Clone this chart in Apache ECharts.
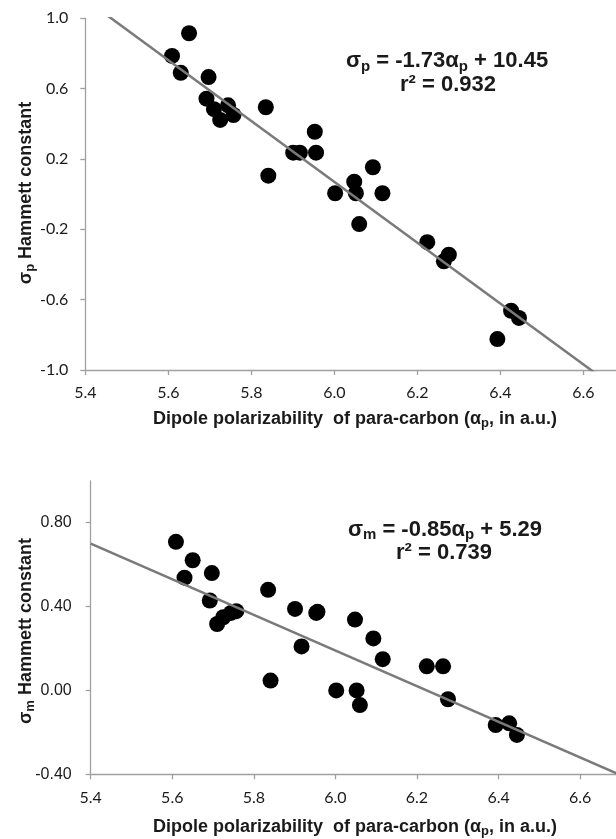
<!DOCTYPE html>
<html><head><meta charset="utf-8">
<script src="https://cdn.jsdelivr.net/npm/echarts@6/dist/echarts.min.js"></script>
<style>html,body{margin:0;padding:0;background:#fff}#c{width:616px;height:839px}</style>
</head><body><div id="c"></div>
<script>
// Dipole polarizability of para-carbon (a.u.) – shared by both panels
const alpha  = [5.609,5.630,5.650,5.692,5.697,5.710,5.725,5.744,5.757,5.835,5.841,5.901,5.917,5.953,5.956,6.002,6.048,6.052,6.060,6.093,6.116,6.224,6.264,6.276,6.393,6.426,6.445];
// Hammett sigma_p
const sigmaP = [0.786,0.690,0.915,0.543,0.666,0.483,0.422,0.505,0.450,0.494,0.105,0.236,0.236,0.355,0.236,0.005,0.071,0.005,-0.170,0.153,0.005,-0.273,-0.382,-0.344,-0.824,-0.663,-0.704];
// Hammett sigma_m
const sigmaM = [0.709,0.538,0.621,0.429,0.560,0.317,0.349,0.370,0.378,0.480,0.047,0.389,0.210,0.370,0.375,0.000,0.338,0.000,-0.070,0.248,0.149,0.115,0.115,-0.042,-0.165,-0.157,-0.212];
// linear fits
const fitP = {slope: -1.73, intercept: 10.45, r2: '0.932'};
const fitM = {slope: -0.85, intercept: 5.29, r2: '0.739'};
// tick labels of the lower panel's y axis
const yTicksM = [-0.4, 0, 0.4, 0.8];
const xRange = [5.4, 6.8];

const AX = '#a0a0a0';
const TXT = '#1a1a1a';

function xAxisCfg(gi, margin){
  return {type:'value', gridIndex:gi, min:xRange[0], max:xRange[1], interval:0.2,
    axisLine:{show:true,onZero:false,lineStyle:{color:AX,width:1.3}},
    axisTick:{show:true,length:5,lineStyle:{color:AX,width:1.3}},
    splitLine:{show:false},
    axisLabel:{margin:margin,fontFamily:'Lato',fontSize:16,color:TXT,formatter:v=>v.toFixed(1)}};
}
const fitLine = f => xRange.map(x => [x, f.slope*x + f.intercept]);

const chart = echarts.init(document.getElementById('c'), null, {renderer:'canvas'});
const sub = {fontSize:13, fontWeight:'bold', fontFamily:'Liberation Sans', fill:TXT, lineHeight:12, verticalAlign:'bottom'};
const main = (fs)=>({fontSize:fs, fontWeight:'bold', fontFamily:'Liberation Sans', fill:TXT, lineHeight:fs+4, verticalAlign:'middle'});
const eqSub = {fontSize:15, fontWeight:'bold', fontFamily:'Liberation Sans', fill:TXT, lineHeight:14, verticalAlign:'bottom'};

function txt(x,y,text,fs,subStyle,rot){
  return {type:'text', x:x, y:y, rotation:rot||0, z:10,
    style:{text:text, align:'center', verticalAlign:'middle',
      rich:{n:main(fs), s:subStyle}}};
}

chart.setOption({
  animation:false,
  grid:[
    {left:85.3, top:18.3, width:581, height:351.7, outerBoundsMode:'none', containLabel:false},
    {left:90.7, top:480.8, width:571, height:293.5, outerBoundsMode:'none', containLabel:false}
  ],
  xAxis:[xAxisCfg(0,15), xAxisCfg(1,16)],
  yAxis:[
    {type:'value', gridIndex:0, min:-1, max:1, interval:0.4,
      axisLine:{show:true,onZero:false,lineStyle:{color:AX,width:1.3}},
      axisTick:{show:true,length:5,lineStyle:{color:AX,width:1.3}},
      splitLine:{show:false},
      axisLabel:{margin:17,fontFamily:'Lato',fontSize:16,color:TXT,formatter:v=>v.toFixed(1)}},
    {type:'value', gridIndex:1, min:-0.4, max:1.0, interval:0.4,
      axisLine:{show:true,onZero:false,lineStyle:{color:AX,width:1.3}},
      axisTick:{show:true,length:5,customValues:yTicksM,lineStyle:{color:AX,width:1.3}},
      splitLine:{show:false},
      axisLabel:{margin:19,fontFamily:'Liberation Sans',fontSize:16,color:TXT,customValues:yTicksM,formatter:v=>v.toFixed(2)}}
  ],
  series:[
    {type:'scatter', xAxisIndex:0, yAxisIndex:0, symbolSize:16, itemStyle:{color:'#000',opacity:1},
      data: alpha.map((a,i)=>[a, sigmaP[i]])},
    {type:'line', xAxisIndex:0, yAxisIndex:0, showSymbol:false, symbol:'none', clip:true, z:5,
      lineStyle:{color:'#7a7a7a',width:2.5}, data: fitLine(fitP)},
    {type:'scatter', xAxisIndex:1, yAxisIndex:1, symbolSize:16, itemStyle:{color:'#000',opacity:1},
      data: alpha.map((a,i)=>[a, sigmaM[i]])},
    {type:'line', xAxisIndex:1, yAxisIndex:1, showSymbol:false, symbol:'none', clip:true, z:5,
      lineStyle:{color:'#7a7a7a',width:2.5}, data: fitLine(fitM)}
  ],
  graphic:[
    txt(447, 61, '{n|σ}{s|p}{n| = -1.73α}{s|p}{n| + 10.45}', 22, eqSub),
    txt(448, 85, '{n|r² = '+fitP.r2+'}', 22, eqSub),
    txt(445, 529.5, '{n|σ}{s|m}{n| = -0.85α}{s|p}{n| + 5.29}', 22, eqSub),
    txt(444, 552.5, '{n|r² = '+fitM.r2+'}', 22, eqSub),
    txt(355, 419, '{n|Dipole polarizability  of para-carbon (α}{s|p}{n|, in a.u.)}', 18, sub),
    txt(355, 827, '{n|Dipole polarizability  of para-carbon (α}{s|p}{n|, in a.u.)}', 18, sub),
    txt(26, 193, '{n|σ}{s|p}{n| Hammett constant}', 18, sub, Math.PI/2),
    txt(26, 631, '{n|σ}{s|m}{n| Hammett constant}', 18, sub, Math.PI/2)
  ]
});
</script>
</body></html>
